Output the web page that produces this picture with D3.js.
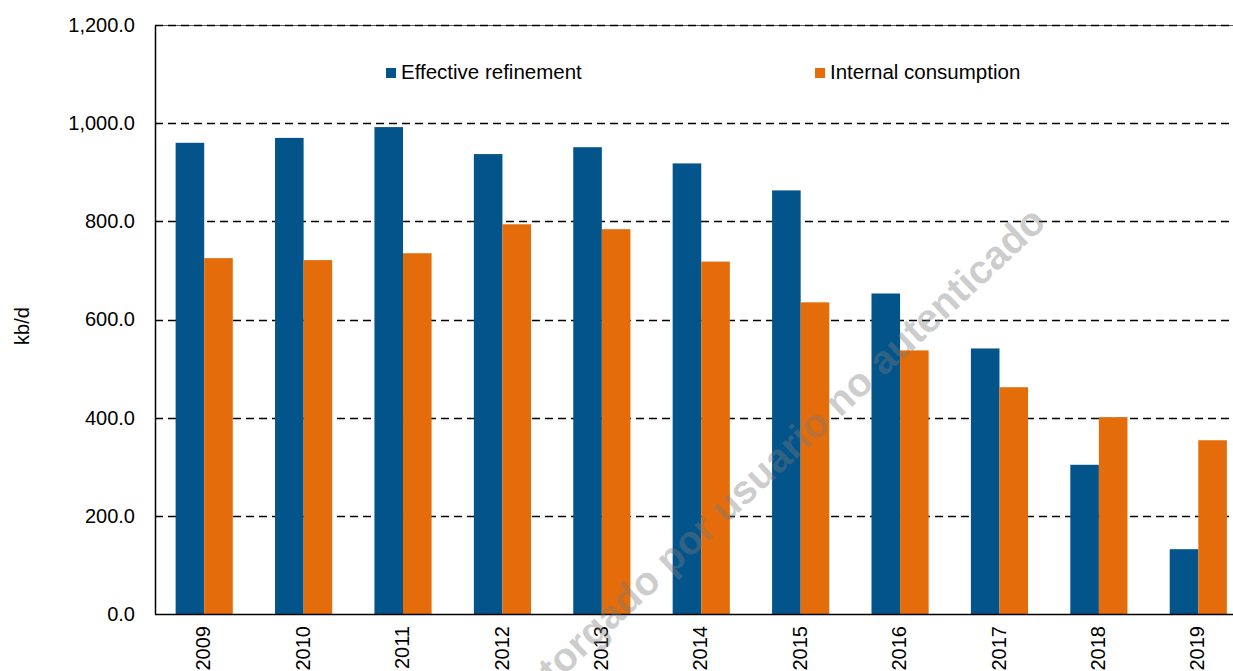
<!DOCTYPE html>
<html>
<head>
<meta charset="utf-8">
<script src="https://cdn.jsdelivr.net/npm/d3@7"></script>
<style>
  html, body { margin: 0; padding: 0; background: #fff; }
  svg { display: block; font-family: "Liberation Sans", Arial, sans-serif; }
</style>
</head>
<body>
<svg id="chart" width="1233" height="671"></svg>
<script>
// Refinery throughput versus domestic demand, thousand barrels per day
const years = ["2009", "2010", "2011", "2012", "2013", "2014", "2015", "2016", "2017", "2018", "2019"];
const effectiveRefinement = [960, 970, 992, 937, 951, 918, 863, 653, 541, 304, 132];
const internalConsumption = [725, 721, 735, 794, 784, 718, 635, 537, 462, 401, 354];
const seriesNames = ["Effective refinement", "Internal consumption"];
const seriesColors = ["#02548a", "#e46c0a"];
const yTicks = [0, 200, 400, 600, 800, 1000, 1200];
const yLabel = "kb/d";
const watermark = "Otorgado por usuario no autenticado";

const svg = d3.select("#chart");
const W = 1233, H = 671;
const plot = { left: 155, right: 1248, top: 25, bottom: 614 };
const fontSize = 20;

const x = d3.scaleBand().domain(years).range([plot.left - 0.5, plot.right]).paddingInner(0.425).paddingOuter(0.2125);
const xs = d3.scaleBand().domain(seriesNames).range([0, x.bandwidth()]);
const y = d3.scaleLinear().domain([0, 1200]).range([plot.bottom, plot.top]);

const fmt = d3.format(",.1f");
const rows = years.map((yr, i) => ({ year: yr, values: [effectiveRefinement[i], internalConsumption[i]] }));

// solid frame line along the top
svg.append("line")
  .attr("x1", plot.left).attr("x2", W)
  .attr("y1", y(1200) + 0.5).attr("y2", y(1200) + 0.5)
  .attr("stroke", "#555").attr("stroke-width", 1);

// dashed gridlines
svg.append("g")
  .selectAll("line")
  .data(yTicks.filter(t => t > 0))
  .join("line")
  .attr("x1", plot.left).attr("x2", W)
  .attr("y1", d => Math.round(y(d)) + 0.5).attr("y2", d => Math.round(y(d)) + 0.5)
  .attr("stroke", "#000").attr("stroke-width", 1.3)
  .attr("stroke-dasharray", "8,5");

// bars
const groups = svg.append("g")
  .selectAll("g")
  .data(rows)
  .join("g")
  .attr("transform", d => `translate(${x(d.year)},0)`);

groups.selectAll("rect")
  .data(d => d.values.map((v, k) => ({ key: seriesNames[k], value: v, k })))
  .join("rect")
  .attr("x", d => xs(d.key))
  .attr("width", xs.bandwidth())
  .attr("y", d => y(d.value))
  .attr("height", d => y(0) - y(d.value))
  .attr("fill", d => seriesColors[d.k]);

// y axis
const yAxis = d3.axisLeft(y).tickValues(yTicks).tickFormat(fmt).tickSize(0).tickPadding(20);
const gy = svg.append("g").attr("transform", `translate(${plot.left},0)`).call(yAxis);
gy.select(".domain").attr("stroke", "#000").attr("stroke-width", 1.5);
gy.selectAll("text").attr("font-size", fontSize).attr("fill", "#000")
  .attr("font-family", "Liberation Sans, Arial, sans-serif");

// x axis line
svg.append("line")
  .attr("x1", plot.left).attr("x2", W)
  .attr("y1", plot.bottom + 0.5).attr("y2", plot.bottom + 0.5)
  .attr("stroke", "#000").attr("stroke-width", 1.5);

// year labels, rotated
const xAxis = d3.axisBottom(x).tickSize(0).tickPadding(0);
const gx = svg.append("g").attr("transform", `translate(0,${plot.bottom})`).call(xAxis);
gx.select(".domain").remove();
gx.selectAll("text")
  .attr("font-size", fontSize).attr("fill", "#000")
  .attr("font-family", "Liberation Sans, Arial, sans-serif")
  .attr("text-anchor", "end")
  .attr("transform", "rotate(-90)")
  .attr("x", -12).attr("y", -1).attr("dy", "0.36em");

// y axis title
svg.append("text")
  .attr("transform", "translate(29,326) rotate(-90)")
  .attr("text-anchor", "middle")
  .attr("font-size", fontSize)
  .text(yLabel);

// legend
const legendX = [386, 815];
const legend = svg.append("g")
  .selectAll("g")
  .data(seriesNames)
  .join("g")
  .attr("transform", (d, i) => `translate(${legendX[i]},68)`);
legend.append("rect").attr("width", 10).attr("height", 10).attr("fill", (d, i) => seriesColors[i]);
legend.append("text").attr("x", 15).attr("y", 11).attr("font-size", 20.5).text(d => d);

// watermark overlay
svg.append("text")
  .attr("transform", "translate(780,455) rotate(-43)")
  .attr("text-anchor", "middle")
  .attr("dy", "0.35em")
  .attr("font-size", 40)
  .attr("font-weight", "bold")
  .attr("fill", "#7a7a7a")
  .attr("fill-opacity", 0.38)
  .text(watermark);
</script>
</body>
</html>
